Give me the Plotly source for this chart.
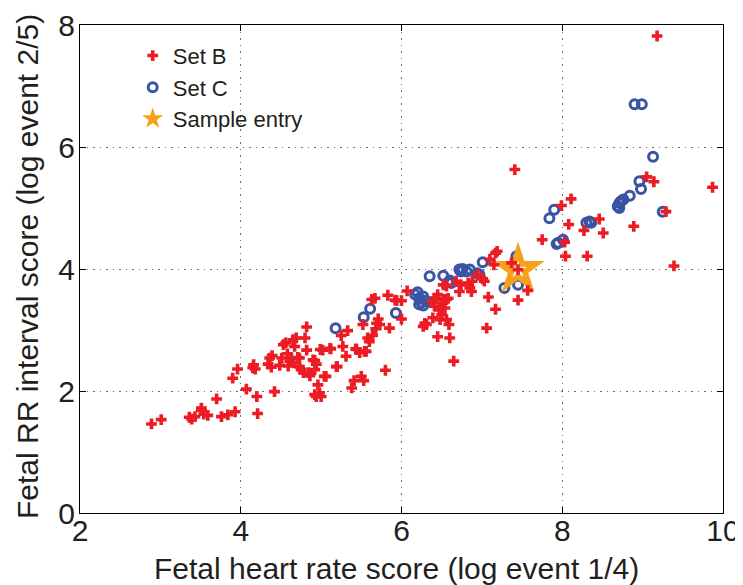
import plotly.graph_objects as go

# ---------------- data ----------------
setB_x = [2.89, 3.01, 3.36, 3.39, 3.43, 3.51, 3.54, 3.59, 3.70, 3.76, 3.84, 3.93, 3.90, 3.96,
          4.07, 4.15, 4.16, 4.18, 4.20, 4.21, 4.36, 4.39, 4.34, 4.38, 4.42, 3.51,
          4.485, 4.51, 4.53, 4.56, 4.58, 4.59, 4.61, 4.63, 4.65, 4.66, 4.67, 4.69, 4.71, 4.73,
          4.73, 4.75, 4.78, 4.80, 4.82, 4.82, 4.84, 4.86, 4.90, 4.92, 4.92, 4.94, 4.96, 4.98,
          4.92, 4.94, 5.00, 5.02, 5.06, 5.12, 5.19, 5.25, 5.27, 5.31, 5.33, 5.38, 5.41, 5.43,
          5.48, 5.50, 5.52, 5.53, 5.56, 5.58, 5.60, 5.63, 5.64, 5.67, 5.68, 5.69, 5.71, 5.73,
          5.80, 5.83, 5.85, 5.92, 4.99, 5.11, 5.04, 5.44, 5.54, 5.20,
          5.94, 6.00, 6.00, 6.07, 6.27, 6.29, 6.31, 6.38, 6.41, 6.43, 6.45, 6.47, 6.48, 6.50,
          6.51, 6.52, 6.54, 6.56, 6.56, 6.58, 6.59, 6.39, 6.45, 6.60, 6.65, 6.52, 6.56, 6.68,
          6.72, 6.74, 6.83, 6.85, 6.87, 6.88, 6.95, 7.01, 7.03, 7.08, 7.06, 7.17, 7.15, 7.17,
          7.19, 7.10, 7.37, 7.45, 7.45, 7.57, 7.41,
          7.75, 7.99, 8.11, 8.08, 8.04, 8.03, 8.27, 8.31, 8.46, 8.51, 8.89, 9.05, 9.14, 9.29,
          9.39, 9.87, 9.18]
setB_y = [1.46, 1.53, 1.57, 1.54, 1.58, 1.68, 1.62, 1.60, 1.87, 1.58, 1.61, 1.66, 2.21, 2.36,
          2.03, 2.38, 2.43, 2.36, 1.91, 1.63, 2.54, 2.58, 2.44, 2.39, 1.99, 1.72,
          2.42, 2.54, 2.76, 2.79, 2.61, 2.41, 2.49, 2.54, 2.84, 2.46, 2.73, 2.87, 2.55, 2.54,
          2.40, 2.35, 2.30, 2.87, 3.05, 2.67, 2.30, 2.25, 2.51, 2.50, 2.35, 2.44, 2.10, 1.97,
          1.94, 1.91, 1.91, 2.67, 2.24, 2.69, 2.40, 2.91, 2.73, 2.57, 2.99, 2.05, 2.17, 2.69,
          2.63, 2.24, 3.09, 2.17, 2.65, 2.87, 2.81, 3.50, 2.91, 3.52, 3.02, 3.11, 3.18, 3.09,
          2.34, 3.57, 3.03, 3.49, 2.68, 2.70, 2.24, 2.68, 2.65, 2.40,
          3.48, 3.48, 3.18, 3.64, 3.06, 3.11, 3.09, 3.47, 3.39, 3.52, 3.58, 3.33, 3.17, 3.25,
          3.44, 3.50, 3.36, 3.50, 3.17, 3.52, 3.09, 3.20, 2.89, 2.87, 2.49, 3.74, 3.72, 3.80,
          3.63, 3.74, 3.77, 3.69, 3.63, 3.80, 3.91, 3.84, 3.80, 3.54, 3.03, 3.34, 4.07, 4.26,
          4.29, 4.16, 4.10, 3.99, 3.49, 3.65, 5.63,
          4.48, 5.04, 5.15, 4.73, 4.21, 4.44, 4.63, 4.21, 4.82, 4.59, 4.70, 5.51, 5.43, 4.94,
          4.05, 5.34, 7.82]

setC_x = [5.18, 5.53, 5.61, 5.93,
          6.17, 6.20, 6.22, 6.25, 6.27, 6.30, 6.22, 6.27,
          6.35, 6.52, 6.60, 6.62, 6.72, 6.76, 6.81, 6.74, 6.85, 6.94, 6.97, 7.01, 7.43, 7.28, 7.45,
          7.84, 7.90, 7.93, 7.95, 8.01, 8.30, 8.34, 8.36, 8.69, 8.71, 8.73, 8.71, 8.76, 8.84,
          8.96, 8.98, 9.13, 9.25, 8.90, 8.99]
setC_y = [3.03, 3.21, 3.35, 3.28,
          3.58, 3.62, 3.52, 3.45, 3.40, 3.48, 3.42, 3.55,
          3.88, 3.89, 3.81, 3.77, 3.99, 4.00, 3.96, 3.96, 3.99, 3.93, 3.91, 4.11, 4.21, 3.69, 3.74,
          4.83, 4.97, 4.41, 4.43, 4.48, 4.76, 4.78, 4.76, 5.03, 5.08, 5.11, 5.00, 5.14, 5.20,
          5.44, 5.31, 5.84, 4.94, 6.70, 6.70]

sample_x = [7.45]
sample_y = [3.99]

x_ticks = [2, 4, 6, 8, 10]
y_ticks = [0, 2, 4, 6, 8]
x_title = "Fetal heart rate score (log event 1/4)"
y_title = "Fetal RR interval score (log event 2/5)"

RED = "#EC1C24"
BLUE = "#3A54A4"
ORANGE = "#F7A11A"
TXT = "#231F20"
FONT = "Liberation Sans, Arial, sans-serif"

fig = go.Figure()
fig.add_trace(go.Scatter(
    x=setC_x, y=setC_y, mode="markers", name="Set C", legendrank=2,
    marker=dict(symbol="circle-open", size=9, color=BLUE, line=dict(width=3, color=BLUE)),
))
fig.add_trace(go.Scatter(
    x=sample_x, y=sample_y, mode="markers", name="Sample entry", legendrank=3,
    marker=dict(symbol="star", size=40, color=ORANGE, line=dict(width=0)),
))
fig.add_trace(go.Scatter(
    x=sample_x, y=sample_y, mode="markers", showlegend=False, hoverinfo="skip",
    marker=dict(symbol="star", size=13, color="white", line=dict(width=0)),
))
fig.add_trace(go.Scatter(
    x=setB_x, y=setB_y, mode="markers", name="Set B", legendrank=1,
    marker=dict(symbol="cross", size=9, color=RED, line=dict(width=0)),
))

axis_common = dict(
    showline=True, linecolor="black", linewidth=1, mirror="ticks",
    ticks="inside", ticklen=6, tickcolor="black",
    showgrid=True, gridcolor="#6e6e6e", gridwidth=1, griddash="1.5px,5px",
    zeroline=False, automargin=False,
    tickfont=dict(family=FONT, size=30, color=TXT),
)

fig.update_xaxes(range=[2, 10], tickvals=x_ticks, ticklabelstandoff=-9, **axis_common)
fig.update_yaxes(range=[0, 8], tickvals=y_ticks, ticklabelstandoff=-2, **axis_common)

fig.add_annotation(text=x_title, xref="paper", yref="paper", x=0.5, y=0,
                   xanchor="center", yanchor="middle", xshift=-5, yshift=-55,
                   showarrow=False, font=dict(family=FONT, size=30, color=TXT))
fig.add_annotation(text=y_title, xref="paper", yref="paper", x=0, y=0.5,
                   xanchor="center", yanchor="middle", xshift=-53, yshift=2, textangle=-90,
                   showarrow=False, font=dict(family=FONT, size=30, color=TXT))

# the page body adds an 8px offset, so the figure is drawn 8px smaller
fig.update_layout(
    width=735, height=577,
    margin=dict(l=72, r=20, t=17, b=72),
    paper_bgcolor="white", plot_bgcolor="white",
    showlegend=True,
    legend=dict(x=0.082, y=0.98, xanchor="left", yanchor="top",
                bgcolor="rgba(0,0,0,0)", borderwidth=0,
                font=dict(family=FONT, size=22, color=TXT)),
)

fig.write_html("out.html")
